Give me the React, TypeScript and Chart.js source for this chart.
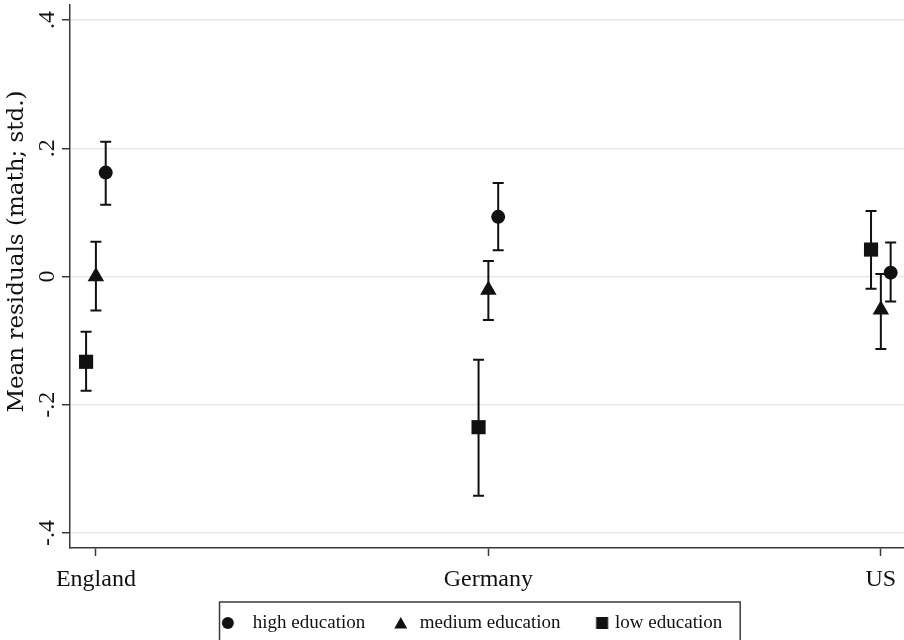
import React, { useEffect, useRef } from "react";
import { Chart, registerables } from "chart.js";

Chart.register(...registerables);

// ---- data ----
const categories = ["England", "Germany", "US"];
const categoryPos = [1, 2, 3];

const seriesNames = ["high education", "medium education", "low education"];
const seriesStyles = ["circle", "triangle", "rect"];
const seriesRadius = [7, 9.5, 10];
const seriesOffset = [0.025, 0, -0.025];

const highMean = [0.162, 0.093, 0.006];
const highLo = [0.112, 0.041, -0.039];
const highHi = [0.21, 0.146, 0.053];

const medMean = [0.0, -0.021, -0.052];
const medLo = [-0.053, -0.068, -0.113];
const medHi = [0.054, 0.024, 0.004];

const lowMean = [-0.133, -0.235, 0.042];
const lowLo = [-0.178, -0.342, -0.019];
const lowHi = [-0.086, -0.13, 0.102];

const yTickValues = [-0.4, -0.2, 0, 0.2, 0.4];
const yTickLabels = ["-.4", "-.2", "0", ".2", ".4"];
const yTitle = "Mean residuals (math; std.)";

const seriesMeans = [highMean, medMean, lowMean];
const seriesLos = [highLo, medLo, lowLo];
const seriesHis = [highHi, medHi, lowHi];

const INK = "#111111";
const AXIS = "#3a3a3a";
const GRID = "#e8e8e8";

// legend swatch: 50x14 image, marker drawn right of its centre by `shift`
const legendShift = [5.75, 11.75, 17.75];
function makeLegendMarker(style: string, shift: number): HTMLCanvasElement {
  const c = document.createElement("canvas");
  c.width = 50;
  c.height = 14;
  const g = c.getContext("2d") as CanvasRenderingContext2D;
  const cx = 25 + shift;
  const cy = 7;
  g.fillStyle = INK;
  g.beginPath();
  if (style === "circle") {
    g.arc(cx, cy, 6, 0, Math.PI * 2);
  } else if (style === "triangle") {
    g.moveTo(cx, cy - 6);
    g.lineTo(cx + 6.5, cy + 5.5);
    g.lineTo(cx - 6.5, cy + 5.5);
    g.closePath();
  } else {
    g.rect(cx - 6, cy - 6, 12, 12);
  }
  g.fill();
  return c;
}

const errorBars = {
  id: "errorBars",
  beforeDatasetsDraw(chart: any) {
    const { ctx } = chart;
    const yScale = chart.scales.y;
    ctx.save();
    ctx.strokeStyle = INK;
    ctx.lineWidth = 2;
    chart.data.datasets.forEach((ds: any, i: number) => {
      const meta = chart.getDatasetMeta(i);
      meta.data.forEach((pt: any, j: number) => {
        const raw = ds.data[j];
        const x = pt.x;
        const yl = yScale.getPixelForValue(raw.lo);
        const yh = yScale.getPixelForValue(raw.hi);
        const cap = 5.5;
        ctx.beginPath();
        ctx.moveTo(x, yl);
        ctx.lineTo(x, yh);
        ctx.moveTo(x - cap, yl);
        ctx.lineTo(x + cap, yl);
        ctx.moveTo(x - cap, yh);
        ctx.lineTo(x + cap, yh);
        ctx.stroke();
      });
    });
    ctx.restore();
  },
};

const yAxisText = {
  id: "yAxisText",
  afterDraw(chart: any) {
    const { ctx } = chart;
    const yScale = chart.scales.y;
    ctx.save();
    ctx.fillStyle = INK;
    ctx.font = "24px 'Liberation Serif'";
    ctx.textAlign = "center";
    ctx.textBaseline = "alphabetic";
    yTickValues.forEach((v, i) => {
      const py = yScale.getPixelForValue(v);
      const px = yScale.right - 16;
      ctx.save();
      ctx.translate(px, py);
      ctx.rotate(-Math.PI / 2);
      ctx.fillText(yTickLabels[i], 0, 0);
      ctx.restore();
    });
    // axis title
    ctx.font = "23px 'DejaVu Serif'";
    ctx.textBaseline = "middle";
    const cy = (yScale.top + yScale.bottom) / 2 - 25;
    ctx.save();
    ctx.translate(yScale.left + 17, cy);
    ctx.rotate(-Math.PI / 2);
    ctx.fillText(yTitle, 0, 0);
    ctx.restore();
    ctx.restore();
  },
};

// shift the legend block slightly right (legend is centred on the canvas)
const legendNudge = {
  id: "legendNudge",
  afterLayout(chart: any) {
    const lg = chart.legend;
    if (!lg) return;
    lg.left += 9.5;
    lg.right += 9.5;
  },
};

const legendFrame = {
  id: "legendFrame",
  afterDraw(chart: any) {
    const hb = chart.legend && chart.legend.legendHitBoxes;
    if (!hb || !hb.length) return;
    const { ctx } = chart;
    const first = hb[0];
    const last = hb[hb.length - 1];
    const left = first.left + 18.7;
    const right = last.left + last.width + 18;
    const top = first.top - 11.5;
    const bottom = chart.height + 2;
    ctx.save();
    ctx.strokeStyle = AXIS;
    ctx.lineWidth = 1.5;
    ctx.strokeRect(left, top, right - left, bottom - top);
    ctx.restore();
  },
};

export default function App() {
  const ref = useRef<HTMLCanvasElement | null>(null);

  useEffect(() => {
    if (!ref.current) return;
    Chart.defaults.font.family = "'Liberation Serif'";
    Chart.defaults.color = INK;

    const legendMarkers = seriesStyles.map((s, i) => makeLegendMarker(s, legendShift[i]));

    const datasets = seriesNames.map((name, s) => ({
      label: name,
      data: categoryPos.map((p, j) => ({
        x: p + seriesOffset[s],
        y: seriesMeans[s][j],
        lo: seriesLos[s][j],
        hi: seriesHis[s][j],
      })),
      pointStyle: seriesStyles[s],
      pointRadius: seriesRadius[s],
      pointHoverRadius: seriesRadius[s],
      backgroundColor: INK,
      borderColor: INK,
      pointBorderWidth: 0,
      borderWidth: 0,
      showLine: false,
    }));

    const defaultGen = (Chart.defaults as any).plugins.legend.labels.generateLabels;

    const chart = new Chart(ref.current, {
      type: "scatter",
      data: { datasets },
      plugins: [errorBars, yAxisText, legendNudge, legendFrame],
      options: {
        animation: false,
        responsive: true,
        maintainAspectRatio: false,
        layout: { autoPadding: false, padding: { top: 5, left: 0, right: 0, bottom: 0 } },
        plugins: {
          tooltip: { enabled: false },
          legend: {
            position: "bottom",
            fullSize: true,
            maxHeight: 29,
            labels: {
              usePointStyle: true,
              pointStyleWidth: 42.5,
              boxHeight: 12,
              padding: 2.5,
              color: INK,
              font: { size: 19, family: "'Liberation Serif'" },
              generateLabels: (ch: any) =>
                defaultGen(ch).map((l: any, i: number) => ({ ...l, pointStyle: legendMarkers[i] })),
            },
          },
        },
        scales: {
          x: {
            type: "linear",
            min: 0.934,
            max: 3.059,
            afterBuildTicks: (scale: any) => {
              scale.ticks = categoryPos.map((v) => ({ value: v }));
            },
            afterFit: (scale: any) => {
              scale.height = 63;
              scale.paddingLeft = 0;
              scale.paddingRight = 0;
            },
            ticks: {
              autoSkip: false,
              maxRotation: 0,
              minRotation: 0,
              padding: 9,
              color: INK,
              font: { size: 24, family: "'Liberation Serif'" },
              callback: (v: any) => {
                const i = categoryPos.indexOf(Number(v));
                return i >= 0 ? categories[i] : "";
              },
            },
            grid: {
              display: true,
              drawOnChartArea: false,
              drawTicks: true,
              tickLength: 8,
              tickColor: AXIS,
              tickWidth: 1.5,
            },
            border: { display: true, color: AXIS, width: 1.5 },
          },
          y: {
            type: "linear",
            min: -0.4234,
            max: 0.4234,
            afterBuildTicks: (scale: any) => {
              scale.ticks = yTickValues.map((v) => ({ value: v }));
            },
            afterFit: (scale: any) => {
              scale.width = 70;
              scale.paddingTop = 0;
              scale.paddingBottom = 0;
            },
            ticks: { display: false },
            grid: {
              display: true,
              drawOnChartArea: true,
              color: GRID,
              lineWidth: 1.5,
              drawTicks: true,
              tickLength: 8,
              tickColor: AXIS,
              tickWidth: 1.5,
            },
            border: { display: true, color: AXIS, width: 1.5 },
            title: { display: false },
          },
        },
      },
    } as any);

    return () => chart.destroy();
  }, []);

  return (
    <div style={{ position: "fixed", left: 0, top: 0, width: 904, height: 640, background: "#fff" }}>
      <canvas ref={ref} />
    </div>
  );
}
